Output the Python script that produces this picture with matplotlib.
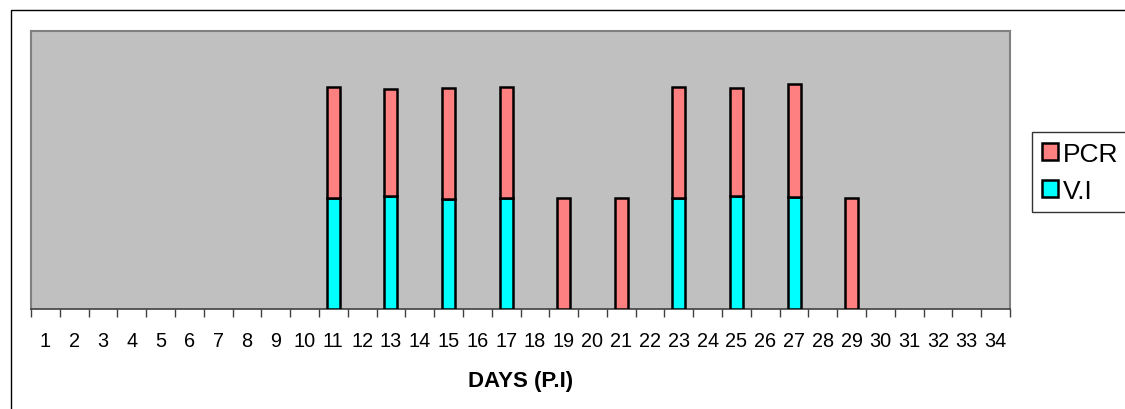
import numpy as np
import matplotlib.pyplot as plt
from matplotlib.patches import Rectangle

plt.rcParams['font.family'] = ['Liberation Sans', 'DejaVu Sans']

# days post infection shown on the x axis
days = list(range(1, 35))
# days that carry a bar
bar_days = [11, 13, 15, 17, 19, 21, 23, 25, 27, 29]
vi = [1.00, 1.02, 0.99, 1.00, 0.0, 0.0, 1.00, 1.02, 1.01, 0.0]
pcr = [1.00, 0.96, 1.00, 1.00, 1.00, 1.00, 1.00, 0.97, 1.01, 1.00]

fig = plt.figure(figsize=(11.25, 4.1), dpi=100)
ax = fig.add_axes([31 / 1125, 1 - 310 / 410, 979 / 1125, 278 / 410])
ax.set_facecolor('#C0C0C0')

x = np.array(bar_days)
vi_arr = np.array(vi)
pcr_arr = np.array(pcr)
has_vi = vi_arr > 0

ax.bar(x[has_vi], vi_arr[has_vi], width=0.45, color='#00FFFF',
       edgecolor='black', linewidth=1.8, label='V.I', zorder=3)
ax.bar(x, pcr_arr, width=0.45, bottom=vi_arr, color='#FF8080',
       edgecolor='black', linewidth=1.8, label='PCR', zorder=3)

ax.set_xlim(0.5, 34.5)
ax.set_ylim(0, 2.5)
ax.set_yticks([])

# tick marks between categories, labels at the centres
ax.set_xticks(np.arange(0.5, 35, 1))
ax.set_xticklabels([])
ax.tick_params(axis='x', which='major', length=6, width=1, color='#404040', direction='out')
ax.set_xticks(days, minor=True)
ax.set_xticklabels([str(d) for d in days], minor=True, fontsize=14.3)
ax.tick_params(axis='x', which='minor', length=0, pad=16)

ax.set_xlabel('DAYS (P.I)', fontsize=16, fontweight='bold', labelpad=14)

for side in ['top', 'left', 'right']:
    ax.spines[side].set_color('#808080')
    ax.spines[side].set_linewidth(1.5)
ax.spines['bottom'].set_color('#404040')
ax.spines['bottom'].set_linewidth(1.2)

handles, labels = ax.get_legend_handles_labels()
leg_top = 1 - 133 / 410
leg = fig.legend(handles[::-1], labels[::-1], loc='upper left',
                 bbox_to_anchor=(1032 / 1125, leg_top - 0.5, 0.2, 0.5),
                 mode='expand', fontsize=19, frameon=True, fancybox=False,
                 handlelength=0.62, handleheight=0.62, handletextpad=0.2,
                 borderpad=0.36, labelspacing=0.5, borderaxespad=0)
leg.get_frame().set_edgecolor('black')
leg.get_frame().set_linewidth(1)

# outer chart frame (cut off at the right and bottom)
fig.patches.append(Rectangle((11 / 1125, -0.1), 1.2, 1.1 - 11 / 410,
                             transform=fig.transFigure, fill=False,
                             edgecolor='black', linewidth=1))

fig.savefig('out.png', dpi=100)
